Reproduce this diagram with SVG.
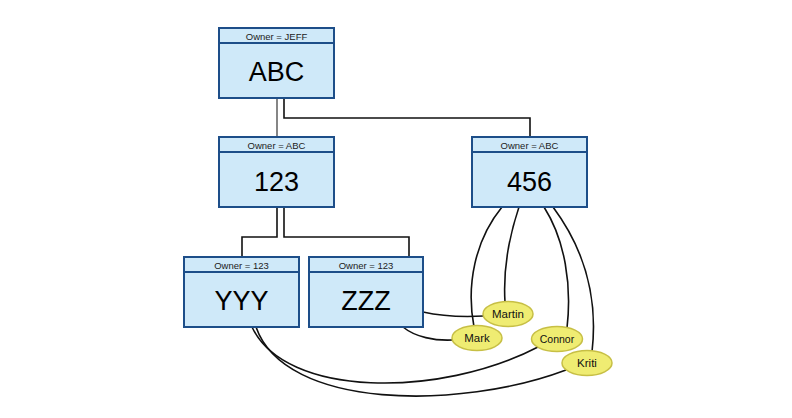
<svg xmlns="http://www.w3.org/2000/svg" width="792" height="418" viewBox="0 0 792 418">
<style>
.box{fill:#CFE9F9;stroke:#1D4E89;stroke-width:2}
.hdr{fill:none;stroke:#1D4E89;stroke-width:2}
.ht{font-family:"Liberation Sans",Arial,sans-serif;font-size:9.5px;fill:#222;text-anchor:middle}
.mt{font-family:"Liberation Sans",Arial,sans-serif;font-size:27px;fill:#000;text-anchor:middle}
.conn{fill:none;stroke:#111;stroke-width:1.6}
.thin{fill:none;stroke:#222;stroke-width:1.1}
.ell{fill:#EFEC72;stroke:#C7BF45;stroke-width:1.5}
.et{font-family:"Liberation Sans",Arial,sans-serif;font-size:11.5px;fill:#111;text-anchor:middle}
</style>
<rect width="792" height="418" fill="#fff"/>
<g id="connectors">
<path class="thin" d="M277,98 V137"/>
<path class="conn" d="M284,98 V118 H530 V137"/>
<path class="conn" d="M277,207 V237 H242 V257"/>
<path class="conn" d="M284,207 V237 H409 V257"/>
<path class="conn" d="M502,207 C475,240 466,285 474,327"/>
<path class="conn" d="M519,207 C508,240 503,270 505,302"/>
<path class="conn" d="M544,207 C565,240 572,285 567,328"/>
<path class="conn" d="M553,207 C585,250 598,300 592,352"/>
<path class="conn" d="M423,312 C445,317 465,317 484,316"/>
<path class="conn" d="M403,327 C415,337 435,341 453,340"/>
<path class="conn" d="M252,327 C285,398 440,398 538,347"/>
<path class="conn" d="M256,327 C285,410 460,410 566,370"/>
</g>
<g id="node-abc">
<rect class="box" x="219" y="28" width="115" height="70"/>
<line class="hdr" x1="219" y1="43" x2="334" y2="43"/>
<text class="ht" x="276.5" y="39.5">Owner = JEFF</text>
<text class="mt" x="276.5" y="80.5">ABC</text>
</g>
<g id="node-123">
<rect class="box" x="219" y="137" width="115" height="70"/>
<line class="hdr" x1="219" y1="152" x2="334" y2="152"/>
<text class="ht" x="276.5" y="148.5">Owner = ABC</text>
<text class="mt" x="276.5" y="190.5">123</text>
</g>
<g id="node-456">
<rect class="box" x="472" y="137" width="115" height="70"/>
<line class="hdr" x1="472" y1="152" x2="587" y2="152"/>
<text class="ht" x="529.5" y="148.5">Owner = ABC</text>
<text class="mt" x="529.5" y="190.5">456</text>
</g>
<g id="node-yyy">
<rect class="box" x="184" y="257" width="115" height="70"/>
<line class="hdr" x1="184" y1="272" x2="299" y2="272"/>
<text class="ht" x="241.5" y="268.5">Owner = 123</text>
<text class="mt" x="241.5" y="309.5">YYY</text>
</g>
<g id="node-zzz">
<rect class="box" x="309" y="257" width="114" height="70"/>
<line class="hdr" x1="309" y1="272" x2="423" y2="272"/>
<text class="ht" x="366" y="268.5">Owner = 123</text>
<text class="mt" x="366" y="309.5">ZZZ</text>
</g>
<g id="node-martin">
<ellipse class="ell" cx="508" cy="314" rx="25" ry="12.5"/>
<text class="et" x="508" y="318">Martin</text>
</g>
<g id="node-mark">
<ellipse class="ell" cx="477" cy="338" rx="25" ry="12.5"/>
<text class="et" x="477" y="342">Mark</text>
</g>
<g id="node-connor">
<ellipse class="ell" cx="557" cy="339" rx="25.5" ry="12.5"/>
<text class="et" x="557" y="342.5" style="font-size:10.5px">Connor</text>
</g>
<g id="node-kriti">
<ellipse class="ell" cx="587" cy="363" rx="25" ry="12.5"/>
<text class="et" x="587" y="367">Kriti</text>
</g>
</svg>
